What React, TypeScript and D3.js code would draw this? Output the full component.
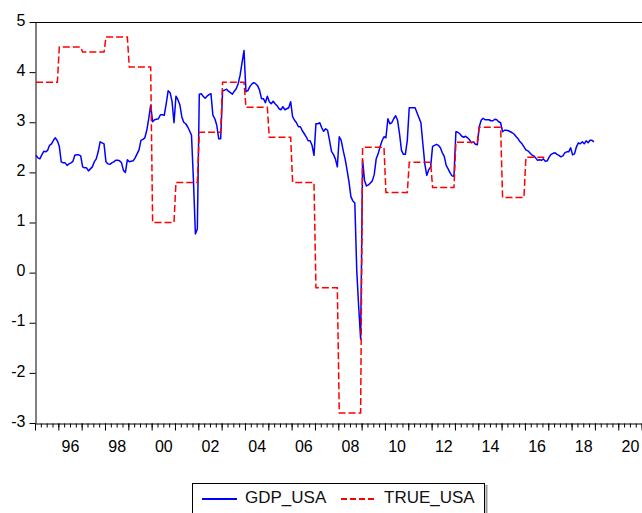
import React, { useEffect, useRef } from "react";
import * as d3 from "d3";

// monthly GDP_USA, Jan 1995 .. Dec 2018 (one row per year)
const gdpStartYear = 1995;
const gdpUsa: number[] = [
  2.34, 2.29, 2.27, 2.35, 2.42, 2.41, 2.44, 2.54, 2.57, 2.64, 2.69, 2.63, // 1995
  2.52, 2.21, 2.19, 2.19, 2.14, 2.17, 2.19, 2.22, 2.34, 2.35, 2.35, 2.33, // 1996
  2.11, 2.09, 2.09, 2.03, 2.07, 2.11, 2.21, 2.27, 2.41, 2.61, 2.59, 2.57, // 1997
  2.21, 2.17, 2.16, 2.19, 2.21, 2.24, 2.24, 2.23, 2.19, 2.04, 2.0, 2.25, // 1998
  2.21, 2.22, 2.23, 2.29, 2.37, 2.45, 2.64, 2.66, 2.69, 2.84, 3.07, 3.34, // 1999
  3.01, 3.05, 3.06, 3.07, 3.15, 3.15, 3.14, 3.37, 3.63, 3.59, 3.41, 2.99, // 2000
  3.52, 3.45, 3.35, 3.11, 3.0, 2.97, 2.91, 2.83, 2.74, 1.84, 0.77, 0.87, // 2001
  3.56, 3.57, 3.52, 3.48, 3.52, 3.55, 3.57, 3.14, 3.07, 2.94, 2.67, 2.67, // 2002
  3.63, 3.64, 3.66, 3.62, 3.59, 3.56, 3.62, 3.67, 3.77, 3.94, 4.19, 4.43, // 2003
  3.61, 3.63, 3.71, 3.76, 3.79, 3.77, 3.73, 3.64, 3.47, 3.47, 3.39, 3.52, // 2004
  3.41, 3.37, 3.42, 3.37, 3.33, 3.27, 3.25, 3.31, 3.25, 3.27, 3.29, 3.41, // 2005
  3.11, 3.04, 2.99, 2.91, 2.91, 2.83, 2.77, 2.71, 2.63, 2.63, 2.54, 2.34, // 2006
  2.97, 2.97, 2.99, 2.89, 2.82, 2.87, 2.84, 2.64, 2.42, 2.36, 2.27, 2.11, // 2007
  2.71, 2.64, 2.44, 2.27, 2.05, 1.81, 1.51, 1.43, 1.39, 0.04, -0.69, -1.33, // 2008
  2.24, 1.84, 1.73, 1.75, 1.79, 1.83, 1.96, 2.27, 2.37, 2.51, 2.63, 2.71, // 2009
  2.69, 3.07, 2.97, 2.99, 3.07, 3.13, 3.04, 2.77, 2.44, 2.36, 2.36, 2.64, // 2010
  3.29, 3.29, 3.29, 3.29, 3.19, 3.09, 2.99, 2.57, 2.17, 1.94, 2.05, 2.11, // 2011
  2.52, 2.54, 2.56, 2.54, 2.49, 2.39, 2.32, 2.14, 2.07, 1.99, 1.93, 1.92, // 2012
  2.81, 2.8, 2.77, 2.72, 2.7, 2.72, 2.69, 2.65, 2.59, 2.61, 2.56, 2.55, // 2013
  2.91, 3.04, 3.08, 3.05, 3.05, 3.05, 3.03, 3.03, 3.06, 3.05, 3.01, 2.99, // 2014
  2.81, 2.84, 2.84, 2.83, 2.81, 2.79, 2.76, 2.71, 2.67, 2.61, 2.57, 2.51, // 2015
  2.45, 2.43, 2.39, 2.35, 2.33, 2.29, 2.24, 2.25, 2.24, 2.27, 2.22, 2.23, // 2016
  2.31, 2.36, 2.38, 2.39, 2.36, 2.34, 2.31, 2.33, 2.39, 2.41, 2.41, 2.49, // 2017
  2.35, 2.37, 2.51, 2.59, 2.57, 2.61, 2.57, 2.63, 2.59, 2.64, 2.64, 2.61, // 2018
];

// TRUE_USA is one value per year, held for every month of that year
const trueYears = [
  1995, 1996, 1997, 1998, 1999, 2000, 2001, 2002, 2003, 2004, 2005,
  2006, 2007, 2008, 2009, 2010, 2011, 2012, 2013, 2014, 2015, 2016,
];
const trueUsa = [
  3.8, 4.5, 4.4, 4.7, 4.1, 1.0, 1.8, 2.8, 3.8, 3.3, 2.7,
  1.8, -0.3, -2.8, 2.5, 1.6, 2.2, 1.7, 2.6, 2.9, 1.5, 2.3,
];

const yTicks = [-3, -2, -1, 0, 1, 2, 3, 4, 5];
const xLabelYears = [1996, 1998, 2000, 2002, 2004, 2006, 2008, 2010, 2012, 2014, 2016, 2018, 2020];
const seriesNames = ["GDP_USA", "TRUE_USA"];

interface Obs {
  t: number;
  v: number;
}

const FONT = "'Liberation Sans', Arial, sans-serif";

const App: React.FC = () => {
  const chartRef = useRef<SVGSVGElement | null>(null);

  useEffect(() => {
    if (!chartRef.current) return;
    const svg = d3.select(chartRef.current);
    svg.selectAll("*").remove();

    const left = 35;
    const top = 22;
    const bottom = 423;

    const x = d3.scaleLinear().domain([1995, 2021.5]).range([left, left + 26.5 * 23.33]);
    const y = d3.scaleLinear().domain([-3, 5]).range([bottom, top]);

    const gdpData: Obs[] = gdpUsa.map((v, i) => ({ t: gdpStartYear + (i + 0.5) / 12, v }));
    const trueData: Obs[] = [];
    trueYears.forEach((yr, i) => {
      for (let m = 0; m < 12; m++) trueData.push({ t: yr + (m + 0.5) / 12, v: trueUsa[i] });
    });

    const line = d3
      .line<Obs>()
      .x((d) => x(d.t))
      .y((d) => y(d.v));

    // frame: top border
    svg
      .append("line")
      .attr("x1", left)
      .attr("x2", 700)
      .attr("y1", top + 0.5)
      .attr("y2", top + 0.5)
      .attr("stroke", "#000");

    // y axis (plain hyphen for negatives, like the original)
    const yAxis = svg
      .append("g")
      .attr("transform", `translate(${left + 0.5},0)`)
      .call(
        d3
          .axisLeft(y)
          .tickValues(yTicks)
          .tickSize(6)
          .tickSizeOuter(0)
          .tickPadding(4)
          .tickFormat((d) => String(d))
      );
    yAxis
      .selectAll("text")
      .style("font-family", FONT)
      .style("font-size", "16px")
      .attr("dy", "0.2em")
      .attr("fill", "#000");
    yAxis.select(".domain").attr("stroke", "#000");

    // x axis: quarter ticks, year ticks, labels mid-year
    const quarters = d3.range(1995, 2021.6, 0.25);
    const years = d3.range(1995, 2022, 1);
    const xq = svg
      .append("g")
      .attr("transform", `translate(0,${bottom + 0.5})`)
      .call(d3.axisBottom(x).tickValues(quarters).tickSize(4).tickSizeOuter(0).tickFormat(() => ""));
    xq.select(".domain").attr("stroke", "#000");
    svg
      .append("g")
      .attr("transform", `translate(0,${bottom + 0.5})`)
      .call(d3.axisBottom(x).tickValues(years).tickSize(7).tickSizeOuter(0).tickFormat(() => ""))
      .select(".domain")
      .remove();
    const xl = svg
      .append("g")
      .attr("transform", `translate(0,${bottom + 0.5})`)
      .call(
        d3
          .axisBottom(x)
          .tickValues(xLabelYears.map((yr) => yr + 0.5))
          .tickSize(0)
          .tickPadding(17)
          .tickFormat((d) => String(Math.floor(+d) % 100).padStart(2, "0"))
      );
    xl.select(".domain").remove();
    xl.selectAll("text").style("font-family", FONT).style("font-size", "16px").attr("fill", "#000");

    // series
    svg
      .append("path")
      .datum(gdpData)
      .attr("fill", "none")
      .attr("stroke", "#0000ff")
      .attr("stroke-width", 1.5)
      .attr("stroke-linejoin", "round")
      .attr("d", line);

    svg
      .append("path")
      .datum(trueData)
      .attr("fill", "none")
      .attr("stroke", "#ff0000")
      .attr("stroke-width", 1.5)
      .attr("stroke-dasharray", "7,3")
      .attr("d", line);

    // legend
    const lg = svg.append("g");
    lg.append("line")
      .attr("x1", 486.5).attr("x2", 486.5).attr("y1", 485).attr("y2", 520)
      .attr("stroke", "#999").attr("stroke-width", 2);
    lg.append("rect")
      .attr("x", 192.5).attr("y", 483.5).attr("width", 292).attr("height", 40)
      .attr("fill", "#fff").attr("stroke", "#000");
    lg.append("line")
      .attr("x1", 202).attr("x2", 237).attr("y1", 499).attr("y2", 499)
      .attr("stroke", "#0000ff").attr("stroke-width", 2);
    lg.append("line")
      .attr("x1", 341).attr("x2", 374).attr("y1", 499).attr("y2", 499)
      .attr("stroke", "#ff0000").attr("stroke-width", 2).attr("stroke-dasharray", "6,3");
    [245, 384].forEach((tx, i) => {
      lg.append("text")
        .attr("x", tx)
        .attr("y", 502.5)
        .style("font-family", FONT)
        .style("font-size", "17px")
        .attr("fill", "#111")
        .text(seriesNames[i]);
    });
  }, []);

  return (
    <svg
      ref={chartRef}
      width={642}
      height={513}
      style={{ position: "absolute", left: 0, top: 0, background: "#fff" }}
    />
  );
};

export default App;
